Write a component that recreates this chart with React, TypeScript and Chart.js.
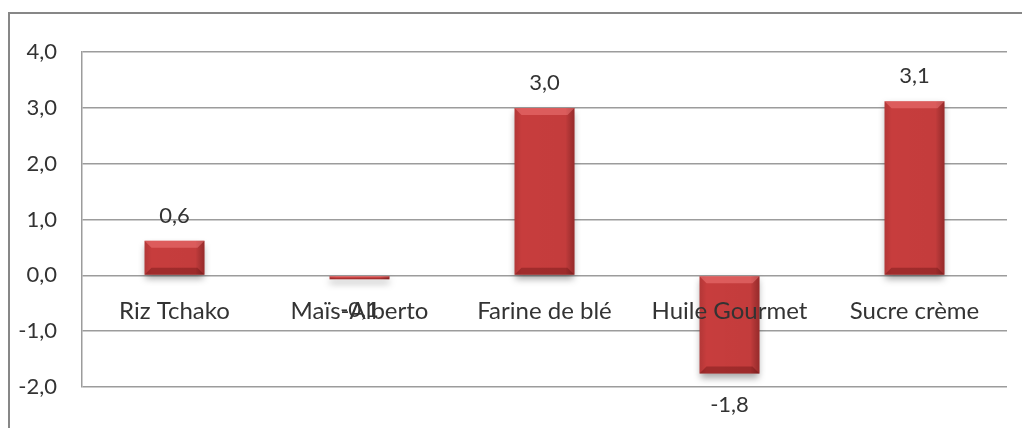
import React, { useEffect, useRef } from 'react';
import { Chart, registerables } from 'chart.js';

Chart.register(...registerables);

const categories = ['Riz Tchako', 'Maïs-Alberto', 'Farine de blé', 'Huile Gourmet', 'Sucre crème'];
const values = [0.62, -0.07, 3.0, -1.76, 3.12];
const yMin = -2;
const yMax = 4;
const yStep = 1;

const FONT = 'Lato, "Open Sans", sans-serif';
const TEXT = '#333333';
const GRID = '#9c9c9c';

const fmt = (v: number) => v.toFixed(1).replace('.', ',');

const shadowPlugin = {
  id: 'barShadow',
  beforeDatasetsDraw(chart: any) {
    const ctx = chart.ctx;
    ctx.save();
    ctx.shadowColor = 'rgba(0,0,0,0.35)';
    ctx.shadowBlur = 7;
    ctx.shadowOffsetX = 0;
    ctx.shadowOffsetY = 4;
  },
  afterDatasetsDraw(chart: any) {
    const ctx = chart.ctx;
    ctx.restore();
    const meta = chart.getDatasetMeta(0);
    meta.data.forEach((bar: any, i: number) => {
      const { x, y, base, width } = bar.getProps(['x', 'y', 'base', 'width'], true);
      const left = x - width / 2;
      const right = x + width / 2;
      const top = Math.min(y, base);
      const bottom = Math.max(y, base);
      const h = bottom - top;
      const b = Math.min(7, h / 3);
      ctx.save();
      const g = ctx.createLinearGradient(left, 0, right, 0);
      g.addColorStop(0, 'rgba(0,0,0,0.10)');
      g.addColorStop(0.12, 'rgba(0,0,0,0)');
      g.addColorStop(0.85, 'rgba(0,0,0,0.02)');
      g.addColorStop(1, 'rgba(40,0,0,0.30)');
      ctx.fillStyle = g;
      ctx.fillRect(left, top, width, h);
      // top bevel
      ctx.beginPath();
      ctx.moveTo(left, top);
      ctx.lineTo(right, top);
      ctx.lineTo(right - b, top + b);
      ctx.lineTo(left + b, top + b);
      ctx.closePath();
      ctx.fillStyle = 'rgba(255,140,140,0.40)';
      ctx.fill();
      // bottom bevel
      ctx.beginPath();
      ctx.moveTo(left, bottom);
      ctx.lineTo(right, bottom);
      ctx.lineTo(right - b, bottom - b);
      ctx.lineTo(left + b, bottom - b);
      ctx.closePath();
      ctx.fillStyle = 'rgba(60,0,0,0.28)';
      ctx.fill();
      ctx.restore();

      // data label
      const v = values[i];
      ctx.save();
      ctx.font = `22px ${FONT}`;
      ctx.fillStyle = TEXT;
      ctx.textAlign = 'center';
      ctx.textBaseline = 'middle';
      const ly = v >= 0 ? y - 25 : y + 31;
      ctx.fillText(fmt(v), x, ly);
      ctx.restore();
    });
  },
};

export default function App() {
  const ref = useRef<HTMLCanvasElement | null>(null);

  useEffect(() => {
    document.documentElement.style.overflow = 'hidden';
    const canvas = ref.current;
    if (!canvas) return;
    const chart = new Chart(canvas, {
      type: 'bar',
      data: {
        labels: categories,
        datasets: [
          {
            data: values,
            backgroundColor: '#c73d3d',
            borderWidth: 0,
            categoryPercentage: 1,
            barPercentage: 0.324,
          },
        ],
      },
      options: {
        responsive: false,
        animation: false,
        devicePixelRatio: 1,
        layout: { padding: { top: 36, right: 23, bottom: 41, left: 0 } },
        plugins: {
          legend: { display: false },
          tooltip: { enabled: false },
        },
        scales: {
          x: {
            position: { y: 0 },
            grid: { display: false, drawTicks: false },
            border: { display: false },
            ticks: {
              z: 1,
              padding: 21,
              color: TEXT,
              font: { family: FONT, size: 24 },
              maxRotation: 0,
              autoSkip: false,
            },
          },
          y: {
            min: yMin,
            max: yMax,
            afterFit: (s: any) => {
              s.width = 72;
            },
            grid: { color: GRID, lineWidth: 1.5, drawTicks: false },
            border: { display: true, color: GRID, width: 1.5 },
            ticks: {
              stepSize: yStep,
              padding: 25,
              color: TEXT,
              font: { family: FONT, size: 22 },
              callback: (v: any) => fmt(Number(v)),
            },
          },
        },
      },
      plugins: [shadowPlugin],
    });
    return () => chart.destroy();
  }, []);

  return (
    <div
      style={{
        marginTop: 4,
        borderTop: '2px solid #878787',
        borderLeft: '2px solid #878787',
        width: 1020,
        height: 420,
        overflow: 'hidden',
        background: '#fff',
      }}
    >
      <canvas ref={ref} width={1020} height={414} style={{ display: 'block' }} />
    </div>
  );
}
